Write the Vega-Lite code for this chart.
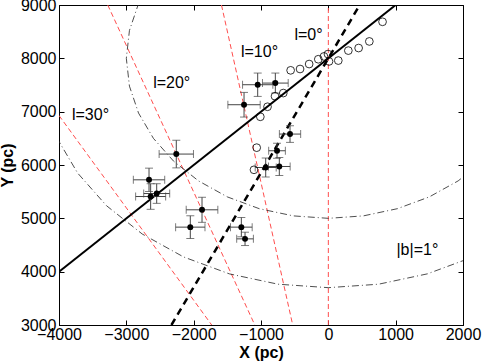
{
  "$schema": "https://vega.github.io/schema/vega-lite/v6.json",
  "width": 404,
  "height": 320,
  "autosize": "none",
  "padding": {"left": 59, "top": 5, "right": 19, "bottom": 38},
  "background": "white",
  "config": {
    "view": {"stroke": "black", "strokeWidth": 1},
    "font": "Liberation Sans",
    "axis": {
      "grid": false,
      "domainColor": "black",
      "tickColor": "black",
      "labelColor": "black",
      "titleColor": "black",
      "labelFont": "Liberation Sans",
      "titleFont": "Liberation Sans",
      "labelFontSize": 16,
      "titleFontSize": 16,
      "titleFontWeight": "bold",
      "tickSize": -5,
      "labelOverlap": false,
      "labelFlush": false
    }
  },
  "datasets": {
    "lon": [
      {"g": "l0", "x": 0, "y": 3000}, {"g": "l0", "x": 0, "y": 9000},
      {"g": "l10", "x": -529, "y": 3000}, {"g": "l10", "x": -1587, "y": 9000},
      {"g": "l20", "x": -1092, "y": 3000}, {"g": "l20", "x": -3276, "y": 9000},
      {"g": "l30", "x": -1732, "y": 3000}, {"g": "l30", "x": -4000, "y": 6928}
    ],
    "arcs": [
      {"g": "r1", "o": 1, "x": -2598, "y": 9500}, {"g": "r1", "o": 2, "x": -2819, "y": 9026},
      {"g": "r1", "o": 3, "x": -2954, "y": 8521}, {"g": "r1", "o": 4, "x": -3000, "y": 8000},
      {"g": "r1", "o": 5, "x": -2954, "y": 7479}, {"g": "r1", "o": 6, "x": -2819, "y": 6974},
      {"g": "r1", "o": 7, "x": -2598, "y": 6500}, {"g": "r1", "o": 8, "x": -2298, "y": 6072},
      {"g": "r1", "o": 9, "x": -1928, "y": 5702}, {"g": "r1", "o": 10, "x": -1500, "y": 5402},
      {"g": "r1", "o": 11, "x": -1026, "y": 5181}, {"g": "r1", "o": 12, "x": -521, "y": 5046},
      {"g": "r1", "o": 13, "x": 0, "y": 5000}, {"g": "r1", "o": 14, "x": 521, "y": 5046},
      {"g": "r1", "o": 15, "x": 1026, "y": 5181}, {"g": "r1", "o": 16, "x": 1500, "y": 5402},
      {"g": "r1", "o": 17, "x": 1928, "y": 5702}, {"g": "r1", "o": 18, "x": 2298, "y": 6072},
      {"g": "r2", "o": 1, "x": -4235, "y": 7254}, {"g": "r2", "o": 2, "x": -4041, "y": 6529},
      {"g": "r2", "o": 3, "x": -3724, "y": 5850}, {"g": "r2", "o": 4, "x": -3294, "y": 5236},
      {"g": "r2", "o": 5, "x": -2764, "y": 4706}, {"g": "r2", "o": 6, "x": -2150, "y": 4276},
      {"g": "r2", "o": 7, "x": -1471, "y": 3959}, {"g": "r2", "o": 8, "x": -747, "y": 3765},
      {"g": "r2", "o": 9, "x": 0, "y": 3700}, {"g": "r2", "o": 10, "x": 747, "y": 3765},
      {"g": "r2", "o": 11, "x": 1471, "y": 3959}, {"g": "r2", "o": 12, "x": 2150, "y": 4276}
    ],
    "solid": [{"x": -4000, "y": 4000}, {"x": 1000, "y": 9000}],
    "dashed": [{"x": -2330, "y": 3000}, {"x": 466, "y": 9000}],
    "filled": [
      {"x": -2258, "y": 6205, "xlo": -2513, "xhi": -2003, "ylo": 5946, "yhi": 6464},
      {"x": -2663, "y": 5722, "xlo": -2896, "xhi": -2430, "ylo": 5503, "yhi": 5941},
      {"x": -2639, "y": 5409, "xlo": -2862, "xhi": -2416, "ylo": 5169, "yhi": 5649},
      {"x": -2549, "y": 5465, "xlo": -2742, "xhi": -2356, "ylo": 5281, "yhi": 5649},
      {"x": -1876, "y": 5160, "xlo": -2111, "xhi": -1641, "ylo": 4925, "yhi": 5395},
      {"x": -2050, "y": 4835, "xlo": -2268, "xhi": -1832, "ylo": 4622, "yhi": 5048},
      {"x": -1292, "y": 4835, "xlo": -1453, "xhi": -1131, "ylo": 4654, "yhi": 5016},
      {"x": -1237, "y": 4615, "xlo": -1361, "xhi": -1113, "ylo": 4490, "yhi": 4740},
      {"x": -569, "y": 6580, "xlo": -727, "xhi": -411, "ylo": 6424, "yhi": 6736},
      {"x": -762, "y": 6267, "xlo": -886, "xhi": -638, "ylo": 6126, "yhi": 6408},
      {"x": -930, "y": 5953, "xlo": -1086, "xhi": -774, "ylo": 5775, "yhi": 6131},
      {"x": -728, "y": 5972, "xlo": -889, "xhi": -567, "ylo": 5803, "yhi": 6141},
      {"x": -1049, "y": 7505, "xlo": -1274, "xhi": -824, "ylo": 7286, "yhi": 7724},
      {"x": -787, "y": 7536, "xlo": -978, "xhi": -596, "ylo": 7348, "yhi": 7724},
      {"x": -1252, "y": 7130, "xlo": -1492, "xhi": -1012, "ylo": 6899, "yhi": 7361}
    ],
    "open": [
      {"x": -1104, "y": 5910}, {"x": -1064, "y": 6325}, {"x": -1010, "y": 6904},
      {"x": -903, "y": 7092}, {"x": -792, "y": 7290}, {"x": -669, "y": 7349},
      {"x": -560, "y": 7775}, {"x": -420, "y": 7800}, {"x": -285, "y": 7893},
      {"x": -149, "y": 7983}, {"x": -65, "y": 8036}, {"x": -5, "y": 8080},
      {"x": 10, "y": 7942}, {"x": 148, "y": 7958}, {"x": 297, "y": 8145},
      {"x": 450, "y": 8193}, {"x": 609, "y": 8317}, {"x": 805, "y": 8685}
    ],
    "labels": [
      {"t": "l=30°", "x": -3532, "y": 6946},
      {"t": "l=20°", "x": -2326, "y": 7537},
      {"t": "l=10°", "x": -1022, "y": 8124},
      {"t": "l=0°", "x": -294, "y": 8433},
      {"t": "|b|=1°", "x": 1322, "y": 4409}
    ]
  },
  "resolve": {"axis": {"x": "independent", "y": "independent"}},
  "layer": [
    {
      "data": {"name": "lon"},
      "mark": {"type": "line", "clip": true, "color": "#ff4d4d", "strokeWidth": 1, "strokeDash": [5, 3]},
      "encoding": {
        "x": {"field": "x", "type": "quantitative", "scale": {"domain": [-4000, 2000], "nice": false, "zero": false},
          "axis": {"orient": "bottom", "values": [-4000, -3000, -2000, -1000, 0, 1000, 2000], "format": "d", "labelPadding": 6, "title": "X (pc)", "titlePadding": 2}},
        "y": {"field": "y", "type": "quantitative", "scale": {"domain": [3000, 9000], "nice": false, "zero": false},
          "axis": {"orient": "left", "values": [3000, 4000, 5000, 6000, 7000, 8000, 9000], "format": "d", "labelPadding": 8, "title": "Y (pc)", "titlePadding": 5}},
        "detail": {"field": "g"}
      }
    },
    {
      "data": {"name": "arcs"},
      "mark": {"type": "line", "clip": true, "color": "#222", "strokeWidth": 0.8, "strokeDash": [7, 3, 1, 3]},
      "encoding": {
        "x": {"field": "x", "type": "quantitative", "scale": {"domain": [-4000, 2000], "nice": false, "zero": false},
          "axis": {"orient": "top", "values": [-4000, -3000, -2000, -1000, 0, 1000, 2000], "labels": false, "title": null, "domain": false}},
        "y": {"field": "y", "type": "quantitative", "scale": {"domain": [3000, 9000], "nice": false, "zero": false},
          "axis": {"orient": "right", "values": [3000, 4000, 5000, 6000, 7000, 8000, 9000], "labels": false, "title": null, "domain": false}},
        "detail": {"field": "g"},
        "order": {"field": "o"}
      }
    },
    {
      "data": {"name": "solid"},
      "mark": {"type": "line", "clip": true, "color": "black", "strokeWidth": 2},
      "encoding": {
        "x": {"field": "x", "type": "quantitative", "scale": {"domain": [-4000, 2000], "nice": false, "zero": false}, "axis": null},
        "y": {"field": "y", "type": "quantitative", "scale": {"domain": [3000, 9000], "nice": false, "zero": false}, "axis": null}
      }
    },
    {
      "data": {"name": "dashed"},
      "mark": {"type": "line", "clip": true, "color": "black", "strokeWidth": 2.5, "strokeDash": [7, 5]},
      "encoding": {
        "x": {"field": "x", "type": "quantitative", "scale": {"domain": [-4000, 2000], "nice": false, "zero": false}, "axis": null},
        "y": {"field": "y", "type": "quantitative", "scale": {"domain": [3000, 9000], "nice": false, "zero": false}, "axis": null}
      }
    },
    {
      "data": {"name": "filled"},
      "mark": {"type": "rule", "color": "#444", "strokeWidth": 1},
      "encoding": {
        "x": {"field": "xlo", "type": "quantitative", "scale": {"domain": [-4000, 2000], "nice": false, "zero": false}, "axis": null},
        "x2": {"field": "xhi"},
        "y": {"field": "y", "type": "quantitative", "scale": {"domain": [3000, 9000], "nice": false, "zero": false}, "axis": null}
      }
    },
    {
      "data": {"name": "filled"},
      "mark": {"type": "rule", "color": "#444", "strokeWidth": 1},
      "encoding": {
        "x": {"field": "x", "type": "quantitative", "scale": {"domain": [-4000, 2000], "nice": false, "zero": false}, "axis": null},
        "y": {"field": "ylo", "type": "quantitative", "scale": {"domain": [3000, 9000], "nice": false, "zero": false}, "axis": null},
        "y2": {"field": "yhi"}
      }
    },
    {
      "data": {"name": "filled"},
      "mark": {"type": "tick", "orient": "vertical", "color": "#444", "size": 8, "thickness": 1},
      "encoding": {
        "x": {"field": "xlo", "type": "quantitative", "scale": {"domain": [-4000, 2000], "nice": false, "zero": false}, "axis": null},
        "y": {"field": "y", "type": "quantitative", "scale": {"domain": [3000, 9000], "nice": false, "zero": false}, "axis": null}
      }
    },
    {
      "data": {"name": "filled"},
      "mark": {"type": "tick", "orient": "vertical", "color": "#444", "size": 8, "thickness": 1},
      "encoding": {
        "x": {"field": "xhi", "type": "quantitative", "scale": {"domain": [-4000, 2000], "nice": false, "zero": false}, "axis": null},
        "y": {"field": "y", "type": "quantitative", "scale": {"domain": [3000, 9000], "nice": false, "zero": false}, "axis": null}
      }
    },
    {
      "data": {"name": "filled"},
      "mark": {"type": "tick", "orient": "horizontal", "color": "#444", "size": 8, "thickness": 1},
      "encoding": {
        "x": {"field": "x", "type": "quantitative", "scale": {"domain": [-4000, 2000], "nice": false, "zero": false}, "axis": null},
        "y": {"field": "ylo", "type": "quantitative", "scale": {"domain": [3000, 9000], "nice": false, "zero": false}, "axis": null}
      }
    },
    {
      "data": {"name": "filled"},
      "mark": {"type": "tick", "orient": "horizontal", "color": "#444", "size": 8, "thickness": 1},
      "encoding": {
        "x": {"field": "x", "type": "quantitative", "scale": {"domain": [-4000, 2000], "nice": false, "zero": false}, "axis": null},
        "y": {"field": "yhi", "type": "quantitative", "scale": {"domain": [3000, 9000], "nice": false, "zero": false}, "axis": null}
      }
    },
    {
      "data": {"name": "filled"},
      "mark": {"type": "point", "shape": "circle", "filled": true, "color": "black", "size": 35, "opacity": 1},
      "encoding": {
        "x": {"field": "x", "type": "quantitative", "scale": {"domain": [-4000, 2000], "nice": false, "zero": false}, "axis": null},
        "y": {"field": "y", "type": "quantitative", "scale": {"domain": [3000, 9000], "nice": false, "zero": false}, "axis": null}
      }
    },
    {
      "data": {"name": "open"},
      "mark": {"type": "point", "shape": "circle", "filled": false, "color": "black", "size": 60, "strokeWidth": 0.8, "opacity": 1},
      "encoding": {
        "x": {"field": "x", "type": "quantitative", "scale": {"domain": [-4000, 2000], "nice": false, "zero": false}, "axis": null},
        "y": {"field": "y", "type": "quantitative", "scale": {"domain": [3000, 9000], "nice": false, "zero": false}, "axis": null}
      }
    },
    {
      "data": {"name": "labels"},
      "mark": {"type": "text", "font": "Liberation Sans", "fontSize": 16, "color": "black", "align": "center", "baseline": "middle"},
      "encoding": {
        "x": {"field": "x", "type": "quantitative", "scale": {"domain": [-4000, 2000], "nice": false, "zero": false}, "axis": null},
        "y": {"field": "y", "type": "quantitative", "scale": {"domain": [3000, 9000], "nice": false, "zero": false}, "axis": null},
        "text": {"field": "t"}
      }
    }
  ]
}
